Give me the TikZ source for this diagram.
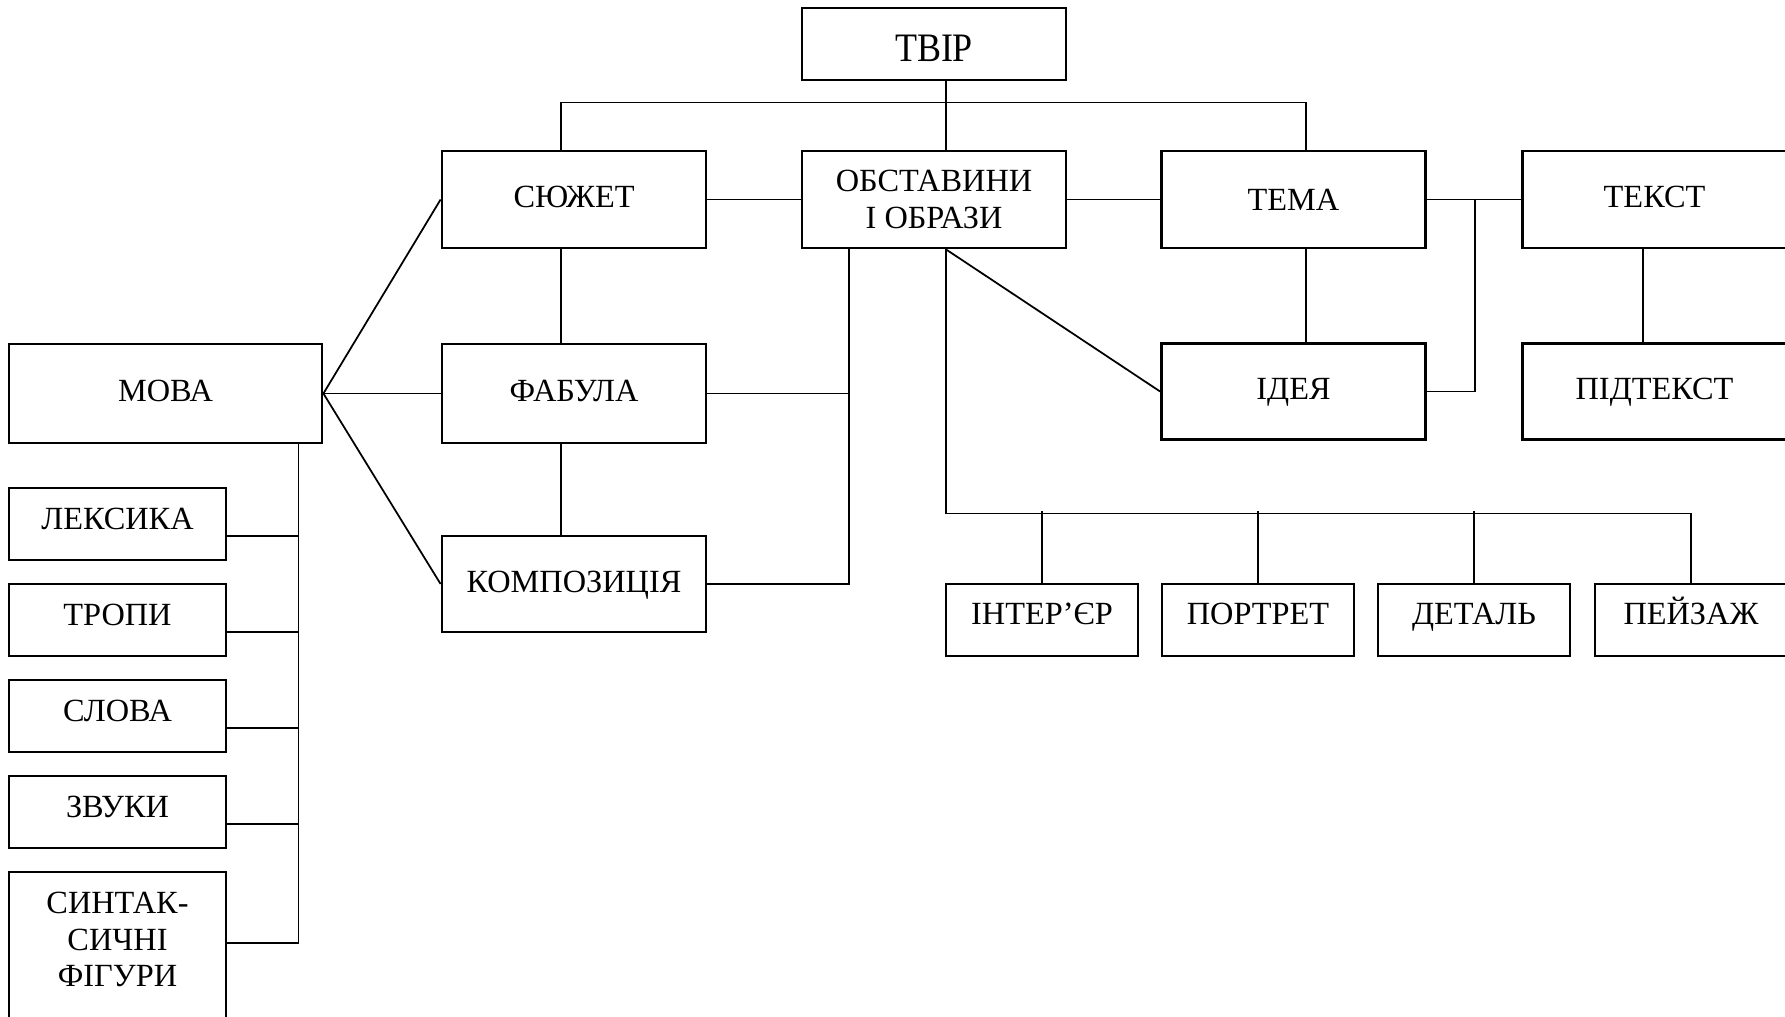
\documentclass[tikz,border=0pt]{standalone}
\usepackage{fontspec}
\setmainfont{Liberation Serif}
\newfontfamily\narrowserif[FakeStretch=0.89]{Liberation Serif}
\usetikzlibrary{positioning}
\tikzset{box/.style={draw, line width=0.8pt, minimum width=2.64cm, minimum height=0.97cm, align=center, inner sep=1pt, text height=7pt, text depth=2.3pt, font=\fontsize{9.2}{10.5}\selectfont}}
\tikzset{smallbox/.style={box, minimum width=2.17cm, minimum height=0.72cm, text height=5.3pt}}
\tikzset{leafbox/.style={box, minimum width=1.92cm, minimum height=0.72cm, text height=5pt}}

\begin{document}
\begin{tikzpicture}[line width=0.5pt]
\useasboundingbox (0,0) rectangle (17.85,-10.16);

\node[box, minimum height=0.72cm, text height=10.2pt, text depth=0pt, font=\narrowserif\fontsize{11.5}{14}\selectfont] (tvir) at (9.34,-0.44) {ТВІР};
\node[box] (syuzhet) at (5.74,-1.995) {СЮЖЕТ};
\node[box, text height=, text depth=] (obst) at (9.34,-1.995) {ОБСТАВИНИ\\І ОБРАЗИ};
\node[box, text height=8.3pt] (tema) at (12.935,-1.995) {ТЕМА};
\node[box] (tekst) at (16.545,-1.995) {ТЕКСТ};
\node[box, minimum width=3.13cm, minimum height=0.99cm] (mova) at (1.655,-3.935) {МОВА};
\node[box, minimum height=0.99cm] (fabula) at (5.74,-3.935) {ФАБУЛА};
\node[box, minimum height=0.96cm] (ideya) at (12.935,-3.915) {ІДЕЯ};
\node[box, minimum height=0.96cm] (pidtekst) at (16.545,-3.915) {ПІДТЕКСТ};
\node[box, minimum height=0.96cm] (kompoz) at (5.74,-5.84) {КОМПОЗИЦІЯ};

\node[smallbox] (lex) at (1.175,-5.24) {ЛЕКСИКА};
\node[smallbox] (tropy) at (1.175,-6.20) {ТРОПИ};
\node[smallbox] (slova) at (1.175,-7.16) {СЛОВА};
\node[smallbox] (zvuky) at (1.175,-8.12) {ЗВУКИ};
\node[smallbox, minimum height=1.5cm, text height=2pt, text depth=0pt] (syntax) at (1.175,-9.47)
  {\smash{\begin{tabular}{@{}c@{}}СИНТАК-\\СИЧНІ\\ФІГУРИ\end{tabular}}};

\node[leafbox] (inter) at (10.42,-6.20) {ІНТЕР’ЄР};
\node[leafbox] (portret) at (12.58,-6.20) {ПОРТРЕТ};
\node[leafbox] (detal) at (14.74,-6.20) {ДЕТАЛЬ};
\node[leafbox] (peyzazh) at (16.91,-6.20) {ПЕЙЗАЖ};

% top level
\draw ([xshift=1.2mm]tvir.south) -- ([xshift=1.2mm]obst.north);
\draw ([xshift=-1.3mm]syuzhet.north) -- ++(0,0.47) -| ([xshift=1.25mm]tema.north);
\draw (syuzhet.east) -- (obst.west);
\draw (obst.east) -- (tema.west);
\draw (tema.east) -- (tekst.west);
\draw ([xshift=-1.3mm]syuzhet.south) -- ([xshift=-1.3mm]fabula.north);
\draw ([xshift=-1.3mm]fabula.south) -- ([xshift=-1.3mm]kompoz.north);
\draw ([xshift=1.25mm]tema.south) -- ([xshift=1.25mm]ideya.north);
\draw ([xshift=-1.15mm]tekst.south) -- ([xshift=-1.15mm]pidtekst.north);
\draw (ideya.east) -- ++(0.48,0) |- (tema.east);

% mova
\draw (mova.east) -- (syuzhet.west);
\draw (mova.east) -- (fabula.west);
\draw (mova.east) -- (kompoz.west);
\coordinate (spine) at ([xshift=1.33cm]mova.south);
\draw (spine) -- ++(0,-5.0);
\foreach \n in {lex,tropy,slova,zvuky}
  \draw ([yshift=-1.2mm]\n.east) -- ([yshift=-1.2mm]\n.east -| spine);
\draw ([yshift=0.4mm]syntax.east) -- ([yshift=0.4mm]syntax.east -| spine);

% obstavyny
\coordinate (obl) at ([xshift=-0.85cm]obst.south);
\draw (obl) |- (kompoz.east);
\draw (fabula.east) -- (fabula.east -| obl);
\draw ([xshift=1.2mm]obst.south) -- (ideya.west);
\draw ([xshift=1.2mm]obst.south) -- ++(0,-2.64) -| (peyzazh.north);
\foreach \n in {inter,portret,detal}
  \draw (\n.north) -- ++(0,0.72);

\end{tikzpicture}
\end{document}
